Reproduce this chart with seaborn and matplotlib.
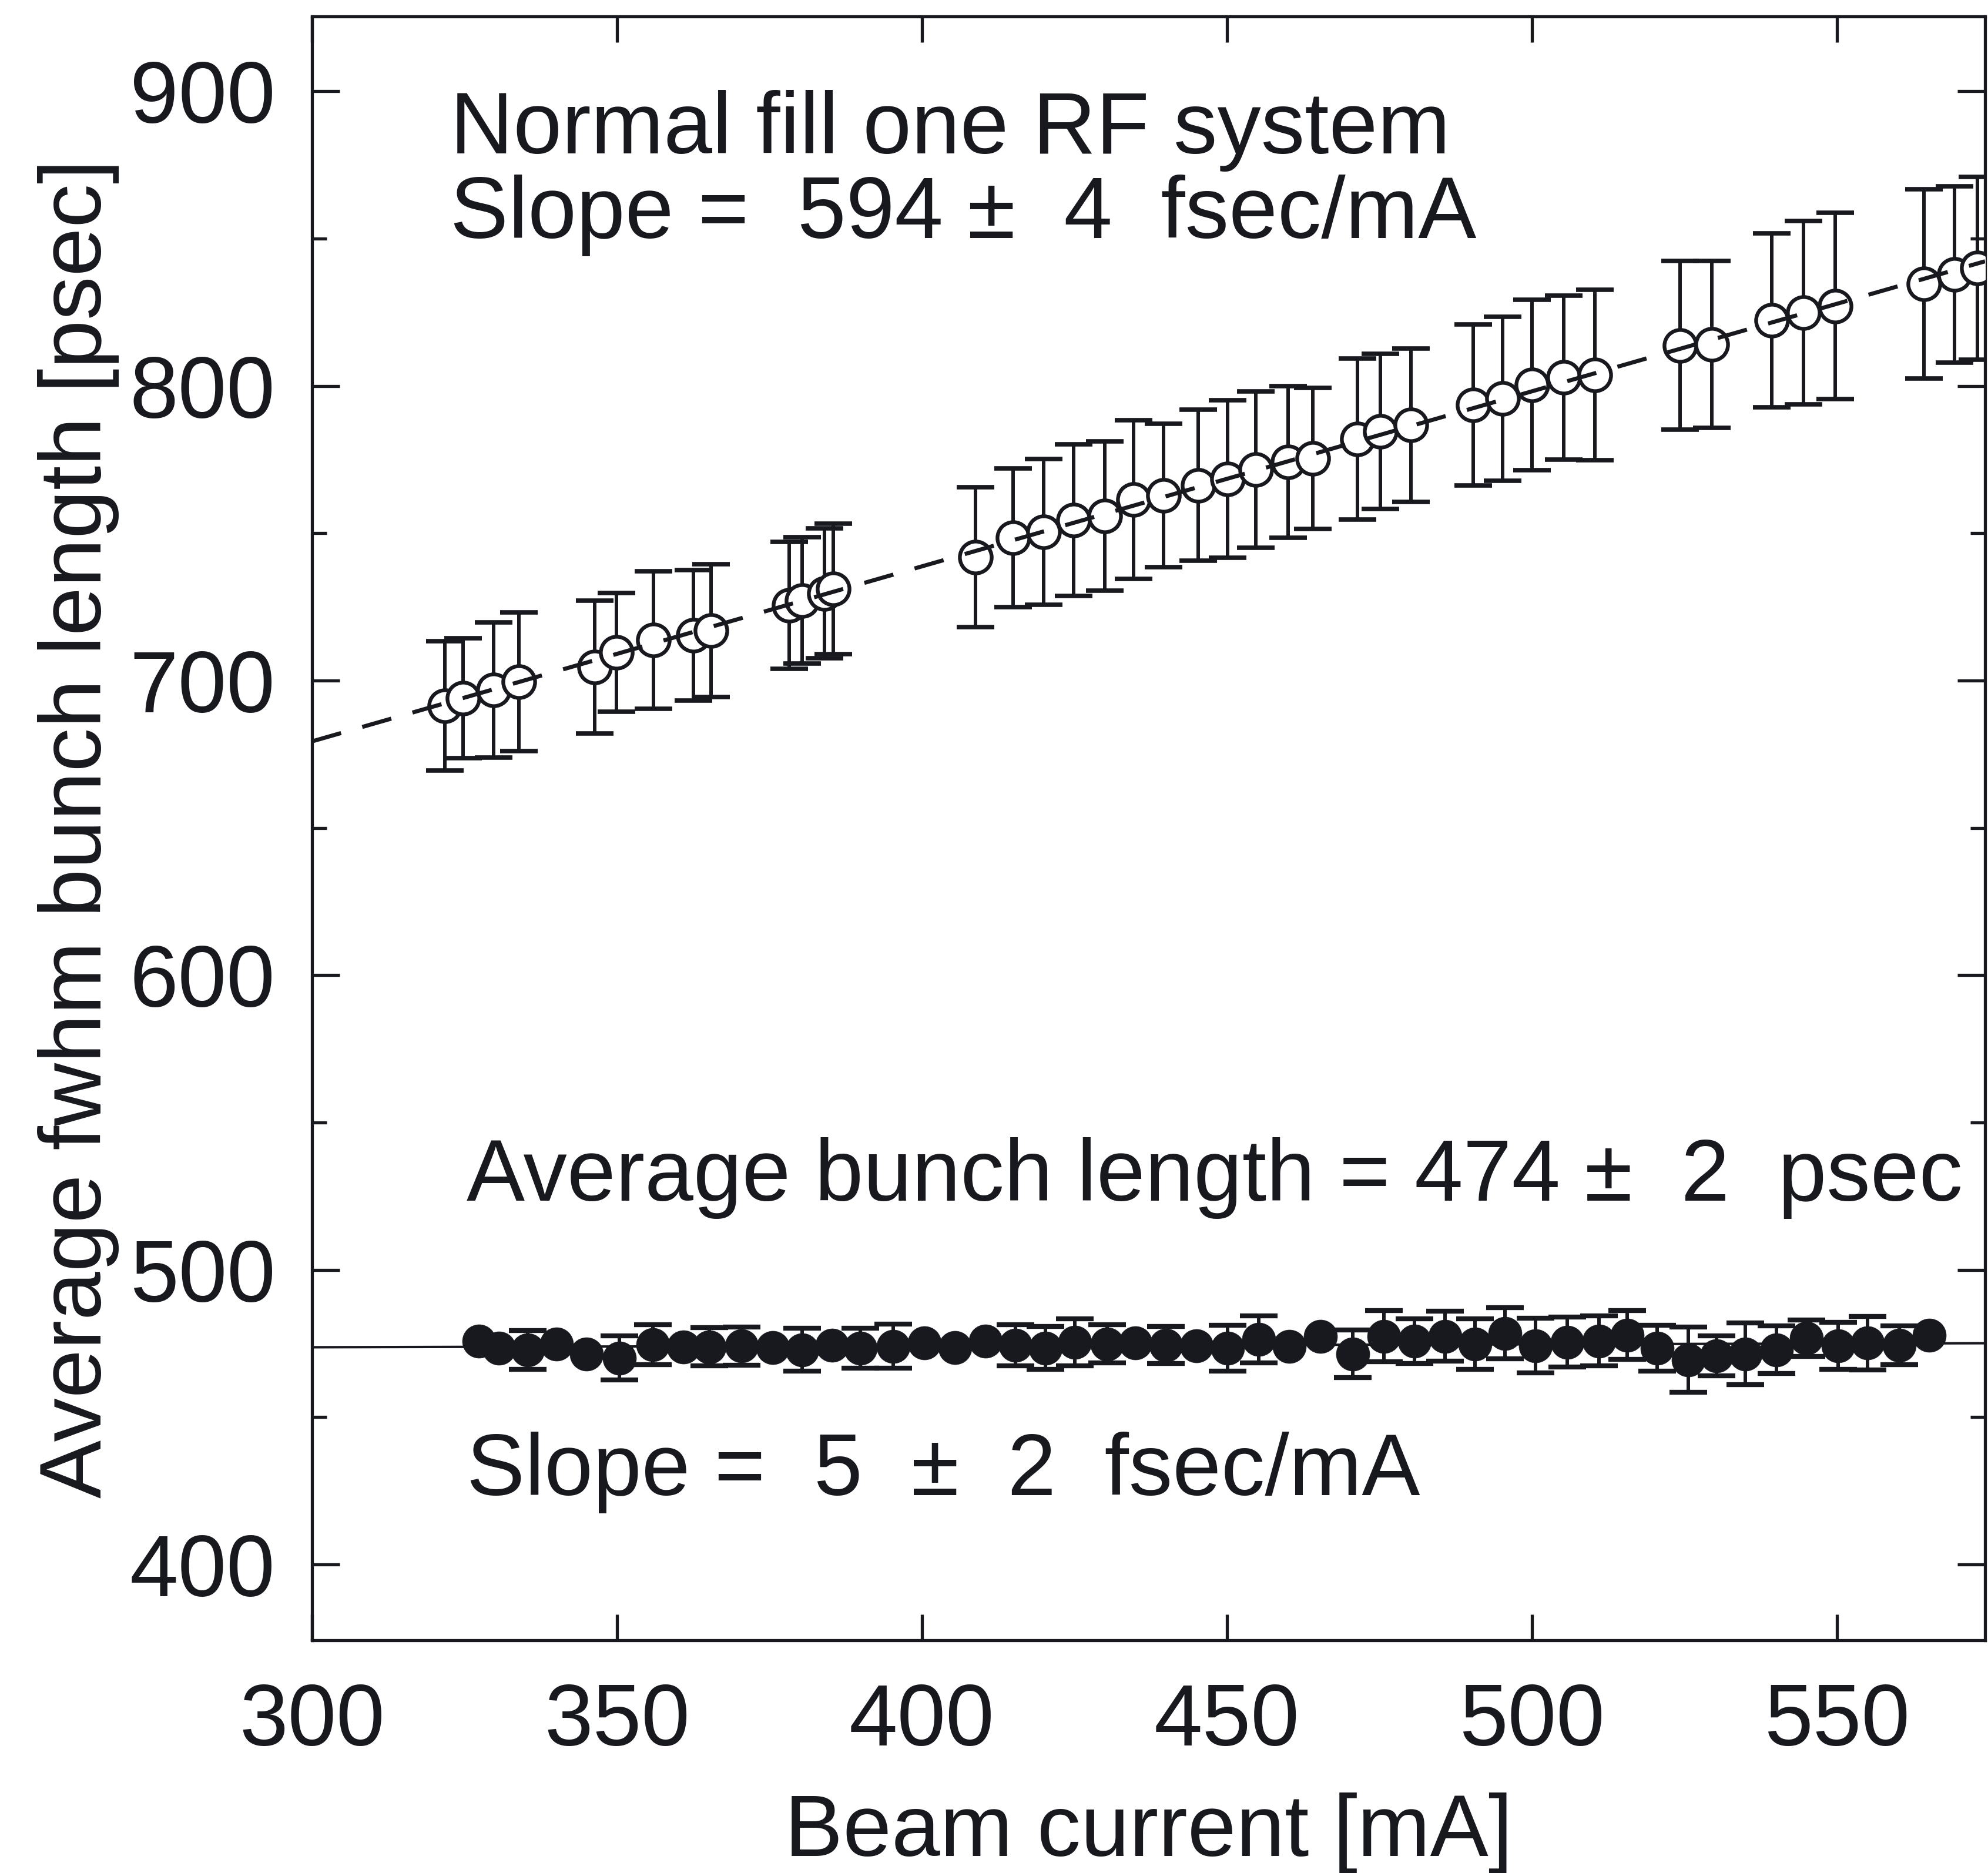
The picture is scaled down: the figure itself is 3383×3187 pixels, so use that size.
import numpy as np
import pandas as pd
import matplotlib
matplotlib.use("Agg")
import matplotlib.pyplot as plt
import seaborn as sns
from matplotlib import font_manager
from matplotlib.ticker import MultipleLocator

# ---------------- data ----------------
# Upper series: normal fill, one RF system (open circles)
upper_current = [321.8, 324.8, 329.8, 333.9, 346.3, 349.9, 356.0, 362.5, 365.4, 378.2, 380.4, 384.0, 385.5,
                 408.8, 414.9, 420.0, 424.9, 430.0, 434.7, 439.6, 445.3, 450.1, 454.7, 460.0, 464.1,
                 471.4, 475.2, 480.2, 490.4, 495.2, 500.0, 505.2, 510.3, 524.3, 529.5, 539.3, 544.5,
                 549.7, 564.3, 569.3, 573.0]
upper_length = [691.4, 694.0, 696.8, 699.6, 704.6, 709.6, 713.8, 715.4, 717.0, 725.6, 727.2, 729.6, 731.1,
                741.9, 748.5, 750.5, 754.5, 755.9, 761.4, 762.8, 766.3, 768.4, 771.6, 774.2, 775.4,
                782.0, 784.6, 786.7, 793.5, 795.7, 800.4, 802.9, 803.7, 813.8, 814.1, 822.3, 824.9,
                827.1, 834.7, 837.9, 840.0]
upper_err = [22.0, 20.4, 23.0, 23.5, 22.6, 20.1, 23.3, 22.2, 22.6, 21.5, 21.5, 22.1, 22.1,
             23.8, 23.5, 24.7, 25.7, 25.3, 26.9, 24.3, 25.6, 26.7, 26.5, 25.7, 24.0,
             27.4, 26.3, 26.1, 27.3, 27.8, 28.9, 27.8, 28.9, 28.7, 28.4, 29.6, 31.1,
             31.6, 32.1, 29.9, 31.0]

# Lower series (filled circles); 0 error = bar hidden inside the marker
lower_current = [327.4, 330.6, 335.4, 340.1, 345.0, 350.4, 355.9, 360.9, 365.1, 370.4, 375.5, 380.4,
                 385.3, 389.9, 395.3, 400.4, 405.4, 410.4, 415.3, 420.2, 425.1, 430.4, 435.0, 440.0,
                 445.0, 450.1, 455.2, 460.2, 465.3, 470.6, 475.7, 480.7, 485.8, 490.7, 495.6, 500.6,
                 505.8, 511.0, 515.6, 520.5, 525.6, 530.3, 535.0, 540.1, 545.0, 550.2, 555.0, 560.2, 565.1]
lower_length = [475.9, 473.5, 472.9, 474.9, 471.4, 470.1, 474.7, 473.9, 473.9, 474.2, 473.7, 472.9,
                474.5, 473.4, 474.1, 475.2, 473.7, 475.9, 474.5, 473.5, 475.5, 474.9, 475.2, 474.5,
                474.3, 473.5, 476.5, 474.1, 477.5, 471.5, 477.5, 475.9, 477.5, 474.9, 478.5, 474.3,
                475.5, 475.9, 477.9, 473.5, 469.5, 470.9, 471.5, 472.9, 476.9, 474.2, 475.2, 474.5, 477.9]
lower_err = [0, 0, 6.6, 0, 0, 7.5, 6.8, 0, 6.5, 6.5, 0, 7.3,
             0, 6.8, 7.5, 0, 0, 0, 7.0, 7.3, 8.0, 6.5, 0, 6.3,
             0, 7.8, 8.0, 0, 0, 8.1, 8.6, 7.6, 8.5, 8.6, 8.6, 9.3,
             8.5, 8.5, 8.3, 7.8, 11.1, 6.8, 10.5, 8.1, 6.2, 8.0, 9.1, 6.6, 0]

# Fit results quoted on the chart
upper_slope = 0.594      # psec/mA (594 fsec/mA)
lower_slope = 0.005      # psec/mA (5 fsec/mA)

x_ticks = [300, 350, 400, 450, 500, 550]
y_ticks = [400, 500, 600, 700, 800, 900]
x_limits = (300, 574.3)
y_limits = (374.3, 925.4)

text_top1 = "Normal fill one RF system"
text_top2 = "Slope =  594 \u00b1  4  fsec/mA"
text_low1 = "Average bunch length = 474 \u00b1  2  psec"
text_low2 = "Slope =  5  \u00b1  2  fsec/mA"
x_label = "Beam current [mA]"
y_label = "Average fwhm bunch length [psec]"

# ---------------- style ----------------
INK = "#18181f"
avail = {f.name for f in font_manager.fontManager.ttflist}
TEXT_FONT = "Liberation Sans" if "Liberation Sans" in avail else "DejaVu Sans"
TICK_FONT = "Liberation Sans Narrow" if "Liberation Sans Narrow" in avail else TEXT_FONT
FS = 107

sns.set_theme(style="ticks")
plt.rcParams.update({
    "font.family": [TICK_FONT, "DejaVu Sans"],
    "lines.scale_dashes": False,
    "axes.edgecolor": INK,
    "axes.linewidth": 3.8,
    "xtick.color": INK,
    "ytick.color": INK,
    "text.color": INK,
    "axes.labelcolor": INK,
    "axes.facecolor": "white",
    "figure.facecolor": "white",
})

W, H = 3383, 3187
fig = plt.figure(figsize=(W / 100, H / 100), dpi=100)
L, R, T, B = 531, 3378, 28, 2791
ax = fig.add_axes([L / W, 1 - B / H, (R - L) / W, (B - T) / H])

df_up = pd.DataFrame({"current": upper_current, "length": upper_length, "err": upper_err})
df_lo = pd.DataFrame({"current": lower_current, "length": lower_length, "err": lower_err})

# fitted lines (fixed quoted slopes, intercept from data)
b_up = np.mean(df_up["length"] - upper_slope * df_up["current"])
b_lo = np.mean(df_lo["length"] - lower_slope * df_lo["current"])
fit_x = np.array(x_limits)
df_fit_up = pd.DataFrame({"current": fit_x, "length": b_up + upper_slope * fit_x})
df_fit_lo = pd.DataFrame({"current": fit_x, "length": b_lo + lower_slope * fit_x})

# upper series
ax.errorbar(df_up["current"], df_up["length"], yerr=df_up["err"], fmt="none",
            ecolor=INK, elinewidth=4.3, capsize=23, capthick=5.5, zorder=2)
sns.scatterplot(data=df_up, x="current", y="length", marker="o", s=39 ** 2,
                color="white", edgecolor=INK, linewidth=4.6, zorder=3, ax=ax, legend=False)
sns.lineplot(data=df_fit_up, x="current", y="length", color=INK, linewidth=5.0,
             linestyle=(0, (37, 27)), zorder=4, ax=ax)

# lower series
sns.lineplot(data=df_fit_lo, x="current", y="length", color=INK, linewidth=3.0,
             zorder=2.5, ax=ax)
m = df_lo["err"] > 0
ax.errorbar(df_lo.loc[m, "current"], df_lo.loc[m, "length"], yerr=df_lo.loc[m, "err"], fmt="none",
            ecolor=INK, elinewidth=4.3, capsize=23, capthick=6, zorder=2)
sns.scatterplot(data=df_lo, x="current", y="length", marker="o", s=41 ** 2,
                color=INK, edgecolor=INK, linewidth=0.5, zorder=3, ax=ax, legend=False)

# axes
ax.set_xlim(*x_limits)
ax.set_ylim(*y_limits)
ax.set_xticks(x_ticks)
ax.set_yticks(y_ticks)
ax.yaxis.set_minor_locator(MultipleLocator(50))
for s in ax.spines.values():
    s.set_visible(True)
    s.set_linewidth(3.8)
    s.set_color(INK)
ax.tick_params(axis="x", which="major", direction="in", top=True, bottom=True,
               length=32, width=3.8, pad=51, labelsize=FS, colors=INK)
ax.tick_params(axis="y", which="major", direction="in", left=True, right=True,
               length=34, width=3.8, pad=45, labelsize=FS, colors=INK)
ax.tick_params(axis="y", which="minor", direction="in", left=True, right=True,
               length=18, width=3.8)
ax.tick_params(axis="x", which="minor", bottom=False, top=False)

ax.set_xlabel(x_label, fontsize=FS, family=[TEXT_FONT, "DejaVu Sans"], va="baseline")
ax.set_ylabel(y_label, fontsize=FS, family=[TEXT_FONT, "DejaVu Sans"], va="baseline")
ax.xaxis.set_label_coords(0.5, (B - 3158) / (B - T))
ax.yaxis.set_label_coords((172 - L) / (R - L), 0.5)

tkw = dict(fontsize=FS, family=[TEXT_FONT, "DejaVu Sans"], va="baseline", ha="left", color=INK)
ax.text(322.6, 879.0, text_top1, **tkw)
ax.text(322.6, 850.2, text_top2, **tkw)
ax.text(325.3, 523.5, text_low1, **tkw)
ax.text(325.3, 423.5, text_low2, **tkw)

ax.grid(False)
fig.savefig("out.png", dpi=100, facecolor="white")
